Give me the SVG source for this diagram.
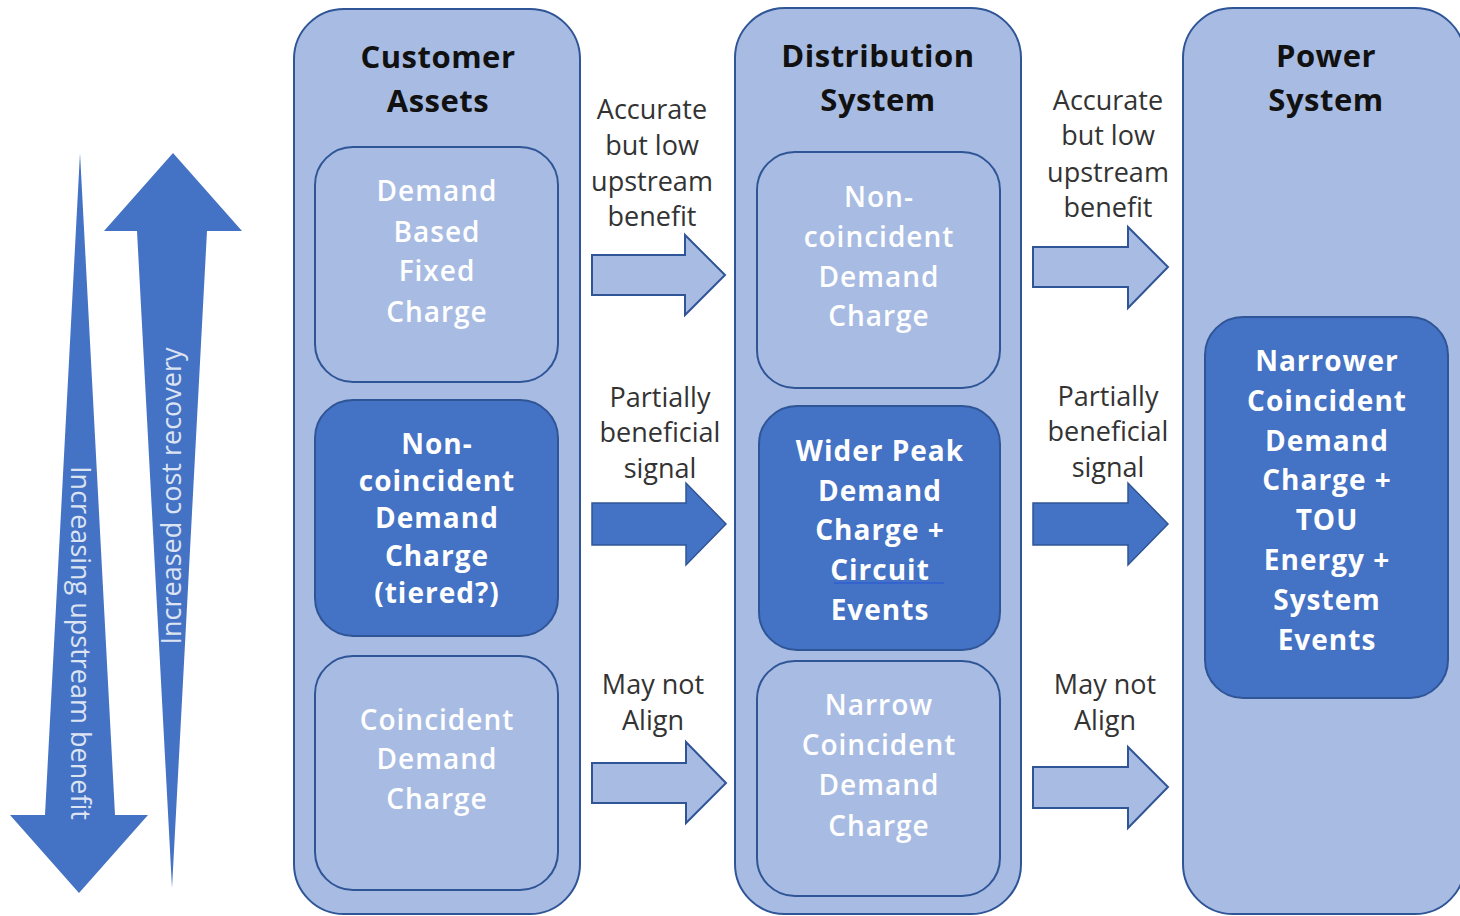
<svg xmlns="http://www.w3.org/2000/svg" width="1460" height="916" viewBox="0 0 1460 916">
<style>
.cont{fill:#A8BCE3;stroke:#2F5597;stroke-width:2}
.lbox{fill:#A8BCE3;stroke:#2F5597;stroke-width:2}
.dbox{fill:#4472C4;stroke:#2F5597;stroke-width:2}
.title{font-family:"Open Sans","Liberation Sans",sans-serif;font-weight:700;font-size:31px;fill:#111;text-anchor:middle;letter-spacing:0.5px}
.lt{font-family:"Open Sans","Liberation Sans",sans-serif;font-weight:600;font-size:28px;fill:#FFFFFF;text-anchor:middle;letter-spacing:1px}
.dt{font-family:"Open Sans","Liberation Sans",sans-serif;font-weight:700;font-size:28px;fill:#FFFFFF;text-anchor:middle;letter-spacing:1px}
.lab{font-family:"Open Sans","Liberation Sans",sans-serif;font-size:27px;fill:#333;text-anchor:middle}
.la{fill:#A8BCE3;stroke:#2F5597;stroke-width:2}
.da{fill:#4472C4;stroke:#2F5597;stroke-width:1.5}
.big{fill:#4472C4}
.vt{font-family:"Open Sans","Liberation Sans",sans-serif;font-size:27px;fill:#DCE4F3;text-anchor:middle}
</style>
<rect width="1460" height="916" fill="#FFFFFF"/>

<g id="scale-arrows">
  <path class="big" d="M80,153 L115,815 L148,815 L79,893 L10,815 L45,815 Z"/>
  <text class="vt" transform="translate(80,643) rotate(90)" dy="0.35em">Increasing upstream benefit</text>
  <path class="big" d="M173,153 L242,231 L207,231 L172,888 L137,231 L104,231 Z"/>
  <text class="vt" transform="translate(172,496) rotate(-90)" dy="0.35em">Increased cost recovery</text>
</g>

<g id="customer-assets">
  <rect class="cont" x="294" y="9" width="286" height="905" rx="50"/>
  <text class="title" x="438" y="68">Customer</text>
  <text class="title" x="438" y="112">Assets</text>
</g>
<g id="ca-demand-based-fixed">
  <rect class="lbox" x="315" y="147" width="243" height="235" rx="38"/>
  <text class="lt" x="437" y="201">Demand</text>
  <text class="lt" x="437" y="242">Based</text>
  <text class="lt" x="437" y="281">Fixed</text>
  <text class="lt" x="437" y="322">Charge</text>
</g>
<g id="ca-noncoincident">
  <rect class="dbox" x="315" y="400" width="243" height="236" rx="38"/>
  <text class="dt" x="437" y="454">Non-</text>
  <text class="dt" x="437" y="491">coincident</text>
  <text class="dt" x="437" y="528">Demand</text>
  <text class="dt" x="437" y="566">Charge</text>
  <text class="dt" x="437" y="603">(tiered?)</text>
</g>
<g id="ca-coincident">
  <rect class="lbox" x="315" y="656" width="243" height="234" rx="38"/>
  <text class="lt" x="437" y="730">Coincident</text>
  <text class="lt" x="437" y="769">Demand</text>
  <text class="lt" x="437" y="809">Charge</text>
</g>

<g id="distribution-system">
  <rect class="cont" x="735" y="8" width="286" height="906" rx="50"/>
  <text class="title" x="878" y="67">Distribution</text>
  <text class="title" x="878" y="111">System</text>
</g>
<g id="ds-noncoincident">
  <rect class="lbox" x="757" y="152" width="243" height="236" rx="38"/>
  <text class="lt" x="879" y="207">Non-</text>
  <text class="lt" x="879" y="247">coincident</text>
  <text class="lt" x="879" y="287">Demand</text>
  <text class="lt" x="879" y="326">Charge</text>
</g>
<g id="ds-wider-peak">
  <rect class="dbox" x="759" y="406" width="241" height="244" rx="38"/>
  <text class="dt" x="880" y="461">Wider Peak</text>
  <text class="dt" x="880" y="501">Demand</text>
  <text class="dt" x="880" y="540">Charge +</text>
  <text class="dt" x="880" y="580">Circuit</text>
  <line x1="834" y1="583" x2="944" y2="583" stroke="#2F5FD0" stroke-width="1.5"/>
  <text class="dt" x="880" y="620">Events</text>
</g>
<g id="ds-narrow-coincident">
  <rect class="lbox" x="757" y="661" width="243" height="235" rx="38"/>
  <text class="lt" x="879" y="715">Narrow</text>
  <text class="lt" x="879" y="755">Coincident</text>
  <text class="lt" x="879" y="795">Demand</text>
  <text class="lt" x="879" y="836">Charge</text>
</g>

<g id="power-system">
  <rect class="cont" x="1183" y="8" width="282" height="906" rx="50"/>
  <text class="title" x="1326" y="67">Power</text>
  <text class="title" x="1326" y="111">System</text>
</g>
<g id="ps-narrower-coincident">
  <rect class="dbox" x="1205" y="317" width="243" height="381" rx="38"/>
  <text class="dt" x="1327" y="371">Narrower</text>
  <text class="dt" x="1327" y="411">Coincident</text>
  <text class="dt" x="1327" y="451">Demand</text>
  <text class="dt" x="1327" y="490">Charge +</text>
  <text class="dt" x="1327" y="530">TOU</text>
  <text class="dt" x="1327" y="570">Energy +</text>
  <text class="dt" x="1327" y="610">System</text>
  <text class="dt" x="1327" y="650">Events</text>
</g>

<g id="connectors">
  <path class="la" d="M592,255 L685,255 L685,235 L725,275 L685,315 L685,295 L592,295 Z"/>
  <path class="da" d="M592,503 L686,503 L686,483 L726,524 L686,565 L686,545 L592,545 Z"/>
  <path class="la" d="M592,763 L686,763 L686,742 L726,783 L686,823 L686,803 L592,803 Z"/>
  <path class="la" d="M1033,247 L1128,247 L1128,227 L1168,267 L1128,308 L1128,287 L1033,287 Z"/>
  <path class="da" d="M1033,503 L1128,503 L1128,483 L1168,524 L1128,565 L1128,545 L1033,545 Z"/>
  <path class="la" d="M1033,767 L1128,767 L1128,747 L1168,787 L1128,828 L1128,808 L1033,808 Z"/>
  <text class="lab" x="652" y="119">Accurate</text>
  <text class="lab" x="652" y="155">but low</text>
  <text class="lab" x="652" y="191">upstream</text>
  <text class="lab" x="652" y="226">benefit</text>
  <text class="lab" x="660" y="407">Partially</text>
  <text class="lab" x="660" y="442">beneficial</text>
  <text class="lab" x="660" y="478">signal</text>
  <text class="lab" x="653" y="694">May not</text>
  <text class="lab" x="653" y="730">Align</text>
  <text class="lab" x="1108" y="110">Accurate</text>
  <text class="lab" x="1108" y="145">but low</text>
  <text class="lab" x="1108" y="182">upstream</text>
  <text class="lab" x="1108" y="217">benefit</text>
  <text class="lab" x="1108" y="406">Partially</text>
  <text class="lab" x="1108" y="441">beneficial</text>
  <text class="lab" x="1108" y="477">signal</text>
  <text class="lab" x="1105" y="694">May not</text>
  <text class="lab" x="1105" y="730">Align</text>
</g>
</svg>
